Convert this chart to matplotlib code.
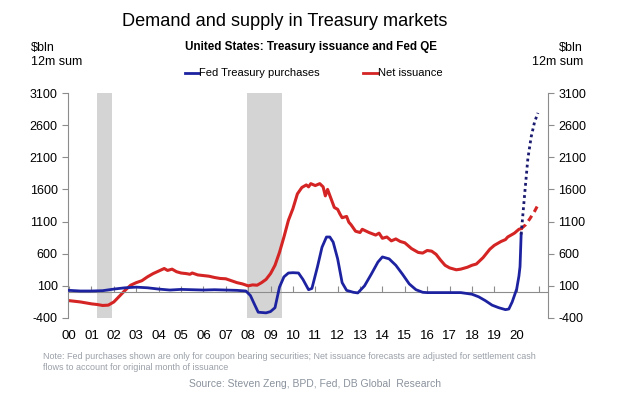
import numpy as np
import matplotlib.pyplot as plt

plt.rcParams['font.family'] = ['Liberation Sans', 'DejaVu Sans']
plt.rcParams['axes.unicode_minus'] = False

# Net issuance, $bln 12m sum (actual)
net_years = [2000.0, 2000.25, 2000.5, 2000.75, 2001.0, 2001.25, 2001.5, 2001.75,
             2002.0, 2002.25, 2002.5, 2002.75, 2003.0, 2003.25, 2003.5, 2003.75,
             2004.0, 2004.25, 2004.4, 2004.6, 2004.8, 2005.0, 2005.25, 2005.4,
             2005.5, 2005.75, 2006.0, 2006.25, 2006.5, 2006.75, 2007.0, 2007.25,
             2007.5, 2007.75, 2008.0, 2008.2, 2008.4, 2008.6, 2008.8, 2009.0,
             2009.2, 2009.4, 2009.6, 2009.8, 2010.0, 2010.2, 2010.4, 2010.6,
             2010.7, 2010.8, 2011.0, 2011.2, 2011.35, 2011.45, 2011.55, 2011.7,
             2011.85, 2012.0, 2012.1, 2012.2, 2012.4, 2012.5, 2012.6, 2012.8,
             2013.0, 2013.1, 2013.4, 2013.7, 2013.85, 2014.0, 2014.2, 2014.4,
             2014.6, 2014.8, 2015.0, 2015.3, 2015.6, 2015.8, 2016.0, 2016.2,
             2016.4, 2016.6, 2016.8, 2017.0, 2017.3, 2017.5, 2017.8, 2018.0,
             2018.2, 2018.5, 2018.8, 2019.0, 2019.3, 2019.5, 2019.6, 2019.7,
             2019.9, 2020.1, 2020.2]
net_vals = [-130, -140, -150, -165, -180, -190, -205, -200,
            -150, -60, 30, 110, 150, 180, 240, 290,
            330, 370, 340, 360, 320, 300, 290, 280,
            300, 270, 260, 250, 230, 215, 210, 180,
            150, 130, 100, 115, 110, 150, 200, 290,
            420, 620, 860, 1120, 1300, 1530, 1630, 1670,
            1640, 1690, 1660, 1690, 1640, 1500, 1600, 1460,
            1320, 1290, 1220, 1160, 1180, 1090, 1050, 950,
            930, 980, 930, 890, 920, 840, 860, 800,
            830, 790, 770, 680, 620, 610, 650, 640,
            590, 500, 420, 380, 350, 360, 390, 420,
            440, 540, 670, 730, 790, 820, 860, 880,
            920, 980, 990]

# Net issuance forecast
net_fc_years = [2020.2, 2020.4, 2020.6, 2020.8, 2021.0]
net_fc_vals = [990, 1050, 1150, 1260, 1390]

# Fed Treasury purchases, $bln 12m sum (actual)
fed_years = [2000.0, 2000.5, 2001.0, 2001.5, 2002.0, 2002.5, 2003.0, 2003.5,
             2004.0, 2004.5, 2005.0, 2005.5, 2006.0, 2006.5, 2007.0, 2007.5,
             2007.9, 2008.1, 2008.3, 2008.45, 2008.8, 2009.0, 2009.2, 2009.4,
             2009.6, 2009.8, 2010.0, 2010.25, 2010.45, 2010.7, 2010.85, 2011.1,
             2011.3, 2011.5, 2011.65, 2011.8, 2012.0, 2012.2, 2012.4, 2012.7,
             2012.9, 2013.2, 2013.5, 2013.8, 2014.0, 2014.3, 2014.6, 2014.9,
             2015.2, 2015.5, 2015.8, 2016.0, 2016.5, 2017.0, 2017.5, 2018.0,
             2018.3, 2018.6, 2018.9, 2019.2, 2019.5, 2019.65, 2019.8, 2020.0,
             2020.1, 2020.15, 2020.2]
fed_vals = [30, 20, 20, 25, 50, 70, 80, 70,
            50, 35, 45, 40, 35, 40, 35, 30,
            20, -50, -200, -310, -320, -300, -240, 80,
            240, 300, 305, 300, 200, 40, 60, 400,
            700, 860, 860, 780, 520, 150, 30, 0,
            -10, 100, 280, 470, 550, 520, 420, 280,
            130, 40, 0, -5, -5, -5, -5, -30,
            -70, -130, -200, -240, -270, -260, -150, 50,
            250, 400, 900]

# Fed purchases projection
fed_fc_years = [2020.2, 2020.35, 2020.5, 2020.65, 2020.8, 2020.95]
fed_fc_vals = [900, 1500, 2080, 2420, 2650, 2790]

recessions = [(2001.25, 2001.9), (2007.95, 2009.5)]
yticks = [-400, 100, 600, 1100, 1600, 2100, 2600, 3100]
xtick_years = list(range(2000, 2022))
xtick_labels = ['%02d' % (y - 2000) for y in range(2000, 2021)] + ['']

blue = '#1d23a0'
red = '#d42424'
grey = '#8c8c8c'

fig = plt.figure(figsize=(6.4, 4.04), dpi=100)
ax = fig.add_axes([68 / 640, 1 - 318 / 404, 480 / 640, 225 / 404])

for start, end in recessions:
    ax.axvspan(start, end, color='#d4d4d4', lw=0, zorder=0)

ax.plot(net_years, net_vals, color=red, lw=2.2, zorder=2)
ax.plot(net_fc_years, net_fc_vals, color=red, lw=2.2, ls=(0, (2, 1.5)), zorder=2)
ax.plot(fed_years, fed_vals, color=blue, lw=2.0, zorder=3)
ax.plot(fed_fc_years, fed_fc_vals, color='#1a1a70', lw=2.0, ls=(0, (1, 1.2)), zorder=3)

ax.set_xlim(1999.95, 2021.4)
ax.set_ylim(-400, 3100)
ax.set_yticks(yticks)
ax.set_xticks(xtick_years)
ax.set_xticklabels(xtick_labels)

ax.spines['top'].set_visible(False)
ax.spines['bottom'].set_position(('data', 0))
ax.spines['bottom'].set_color(grey)
ax.spines['left'].set_color(grey)
ax.spines['right'].set_visible(False)
ax.tick_params(axis='x', direction='in', length=4, color=grey, pad=27, labelsize=9.5)
ax.tick_params(axis='y', direction='out', length=4, color=grey, labelsize=9)

ax2 = ax.twinx()
ax2.set_ylim(-400, 3100)
ax2.set_yticks(yticks)
for side in ['top', 'bottom', 'left']:
    ax2.spines[side].set_visible(False)
ax2.spines['right'].set_color(grey)
ax2.tick_params(axis='y', direction='out', length=4, color=grey, labelsize=9)

fig.text(285 / 640, 1 - 22 / 404, 'Demand and supply in Treasury markets',
         ha='center', va='center', fontsize=13.1)
fig.text(311 / 640, 1 - 47 / 404, 'United States: Treasury issuance and Fed QE',
         ha='center', va='center', fontsize=8.4, fontweight='bold')
fig.text(31 / 640, 1 - 55 / 404, '$bln\n12m sum', ha='left', va='center',
         fontsize=9, linespacing=1.2)
fig.text(583 / 640, 1 - 55 / 404, '$bln\n12m sum', ha='right', va='center',
         fontsize=9, linespacing=1.2, multialignment='right')

# legend drawn as short lines with labels
fig.add_artist(plt.Line2D([185 / 640, 199 / 640], [1 - 73 / 404] * 2, color=blue, lw=2))
fig.text(199 / 640, 1 - 73 / 404, 'Fed Treasury purchases', ha='left', va='center', fontsize=8)
fig.add_artist(plt.Line2D([363 / 640, 378 / 640], [1 - 73 / 404] * 2, color=red, lw=2))
fig.text(378 / 640, 1 - 73 / 404, 'Net issuance', ha='left', va='center', fontsize=8)

fig.text(43 / 640, 1 - 362 / 404,
         'Note: Fed purchases shown are only for coupon bearing securities; Net issuance forecasts are adjusted for settlement cash\n'
         'flows to account for original month of issuance',
         ha='left', va='center', fontsize=6.5, color='#9aa0a8', linespacing=1.3)
fig.text(315 / 640, 1 - 384 / 404, 'Source: Steven Zeng, BPD, Fed, DB Global  Research',
         ha='center', va='center', fontsize=7.5, color='#8a929c')

fig.savefig('out.png', dpi=100)
